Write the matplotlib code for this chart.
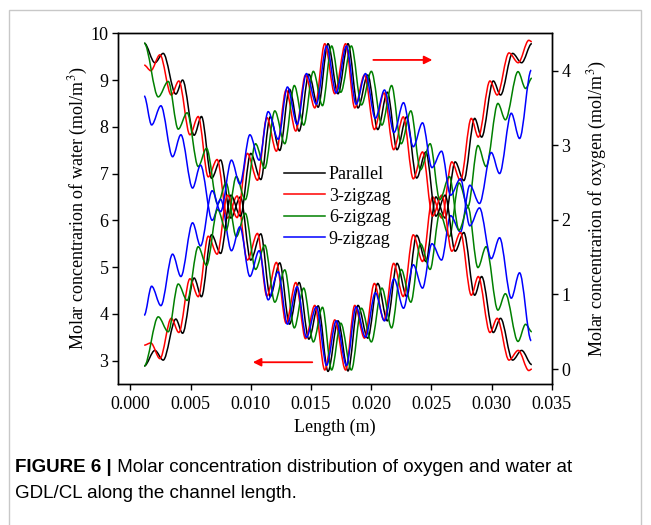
import numpy as np
import matplotlib
matplotlib.use("Agg")
import matplotlib.pyplot as plt
from matplotlib.path import Path
from matplotlib.patches import PathPatch, Rectangle
from matplotlib.lines import Line2D
from matplotlib.ticker import FormatStrFormatter

plt.rcParams['font.family'] = 'Liberation Serif'
plt.rcParams['mathtext.fontset'] = 'stix'

# extrema of each curve: x in mm,
# water on left axis, oxygen on right axis (mol/m3)
x_parallel = [1.15, 2.04, 2.73, 3.78, 4.34, 5.30, 5.91, 6.75, 7.50, 8.35,
              9.15, 10.00, 10.84, 11.62, 12.41, 13.22, 14.02, 14.83, 15.60, 16.42,
              17.25, 18.08, 18.91, 19.72, 20.55, 21.35, 22.15, 22.95, 23.78, 24.55,
              25.38, 26.15, 26.98, 27.70, 28.60, 29.18, 30.15, 30.75, 31.75, 32.50, 33.35]
water_parallel = [9.79, 9.37, 9.57, 8.70, 9.00, 7.82, 8.22, 6.90, 7.29, 6.05,
                  6.50, 5.15, 5.71, 4.37, 5.09, 3.78, 4.67, 3.46, 4.17, 2.77,
                  3.85, 2.78, 4.18, 3.48, 4.65, 3.85, 5.08, 4.37, 5.68, 5.12,
                  6.50, 6.05, 7.25, 6.85, 8.18, 7.78, 8.98, 8.68, 9.57, 9.37, 9.78]
oxygen_parallel = [0.04, 0.25, 0.12, 0.67, 0.48, 1.22, 0.97, 1.80, 1.55, 2.33,
                   2.05, 2.89, 2.54, 3.38, 2.93, 3.75, 3.19, 3.95, 3.51, 4.36,
                   3.69, 4.36, 3.50, 3.94, 3.21, 3.71, 2.94, 3.38, 2.56, 2.91,
                   2.05, 2.33, 1.58, 1.83, 0.99, 1.24, 0.49, 0.68, 0.12, 0.25, 0.06]

x_3zig = [1.15, 1.70, 2.46, 3.40, 4.03, 4.95, 5.64, 6.47, 7.21, 8.07,
          8.87, 9.72, 10.56, 11.34, 12.13, 12.94, 13.74, 14.55, 15.32, 16.15,
          16.98, 17.88, 18.64, 19.45, 20.27, 21.07, 21.87, 22.67, 23.50, 24.27,
          25.10, 25.87, 26.70, 27.42, 28.32, 28.90, 29.87, 30.47, 31.45, 32.22, 33.10, 33.35]
water_3zig = [9.32, 9.20, 9.54, 8.68, 8.98, 7.83, 8.22, 6.93, 7.30, 6.05,
              6.52, 5.15, 5.72, 4.38, 5.10, 3.80, 4.67, 3.47, 4.18, 2.80,
              3.87, 2.80, 4.18, 3.48, 4.65, 3.86, 5.08, 4.37, 5.69, 5.12,
              6.50, 6.05, 7.25, 6.85, 8.18, 7.78, 8.98, 8.68, 9.58, 9.37, 9.85, 9.82]
oxygen_3zig = [0.32, 0.35, 0.14, 0.68, 0.49, 1.21, 0.97, 1.78, 1.54, 2.33,
               2.03, 2.89, 2.53, 3.37, 2.92, 3.74, 3.19, 3.94, 3.50, 4.36,
               3.69, 4.36, 3.50, 3.94, 3.21, 3.70, 2.94, 3.38, 2.55, 2.91,
               2.05, 2.33, 1.58, 1.83, 0.99, 1.24, 0.49, 0.68, 0.12, 0.25, -0.02, 0.00]

x_6zig = [1.15, 2.32, 3.15, 3.98, 4.72, 5.64, 6.33, 7.25, 7.95, 8.80,
          9.55, 10.40, 11.17, 12.00, 12.83, 13.62, 14.40, 15.20, 15.96, 16.72,
          17.48, 18.36, 19.20, 20.02, 20.90, 21.70, 22.50, 23.30, 24.10, 24.90,
          25.70, 26.50, 27.30, 28.05, 28.87, 29.55, 30.53, 31.15, 32.20, 32.83, 33.35]
water_6zig = [9.79, 8.64, 8.97, 7.95, 8.30, 7.15, 7.54, 6.35, 6.80, 5.65,
              6.15, 4.95, 5.47, 4.25, 4.94, 3.70, 4.55, 3.40, 4.14, 2.80,
              3.80, 2.80, 4.12, 3.40, 4.55, 3.70, 4.95, 4.25, 5.50, 4.95,
              6.15, 5.65, 6.80, 6.30, 7.60, 7.15, 8.50, 8.15, 9.18, 8.82, 9.04]
oxygen_6zig = [0.04, 0.70, 0.50, 1.14, 0.92, 1.64, 1.39, 2.14, 1.86, 2.58,
               2.27, 3.02, 2.69, 3.46, 3.02, 3.80, 3.27, 3.99, 3.53, 4.33,
               3.71, 4.33, 3.54, 3.99, 3.27, 3.80, 3.02, 3.46, 2.67, 3.02,
               2.27, 2.58, 1.86, 2.17, 1.36, 1.64, 0.79, 1.01, 0.37, 0.60, 0.50]

x_9zig = [1.15, 1.77, 2.54, 3.51, 4.20, 5.17, 5.83, 6.80, 7.50, 8.40,
          9.10, 9.93, 10.70, 11.45, 12.28, 13.05, 13.85, 14.63, 15.45, 16.30,
          17.10, 17.95, 18.75, 19.53, 20.35, 21.11, 21.90, 22.69, 23.50, 24.27,
          25.05, 25.85, 26.60, 27.42, 28.20, 29.00, 29.98, 30.67, 31.64, 32.33, 33.30]
water_9zig = [8.66, 8.04, 8.45, 7.36, 7.83, 6.69, 7.18, 6.00, 6.45, 5.35,
              5.86, 4.80, 5.35, 4.30, 4.90, 3.78, 4.58, 3.50, 4.15, 2.90,
              3.85, 2.90, 4.15, 3.50, 4.45, 3.85, 4.75, 4.12, 5.05, 4.55,
              5.50, 5.15, 6.10, 5.75, 6.75, 6.36, 7.45, 7.00, 8.29, 7.75, 9.21]
oxygen_9zig = [0.72, 1.11, 0.85, 1.54, 1.24, 1.96, 1.65, 2.39, 2.11, 2.80,
               2.48, 3.14, 2.80, 3.45, 3.08, 3.78, 3.28, 3.96, 3.55, 4.33,
               3.70, 4.33, 3.55, 3.96, 3.36, 3.74, 3.17, 3.57, 2.98, 3.30,
               2.70, 2.92, 2.33, 2.55, 1.92, 2.16, 1.48, 1.76, 0.95, 1.29, 0.38]

labels = ['Parallel', '3-zigzag', '6-zigzag', '9-zigzag']
colors = ['black', '#ff0000', '#008000', '#0000ff']
xs = [x_parallel, x_3zig, x_6zig, x_9zig]
waters = [water_parallel, water_3zig, water_6zig, water_9zig]
oxygens = [oxygen_parallel, oxygen_3zig, oxygen_6zig, oxygen_9zig]


def smooth_path(x, y):
    # cubic segments between extrema, flat at each turning point
    verts = [(x[0], y[0])]
    codes = [Path.MOVETO]
    for i in range(1, len(x)):
        d = (x[i] - x[i - 1]) / 3
        verts += [(x[i - 1] + d, y[i - 1]), (x[i] - d, y[i]), (x[i], y[i])]
        codes += [Path.CURVE4] * 3
    return Path(verts, codes)


fig = plt.figure(figsize=(6.51, 5.25), dpi=100)
ax = fig.add_axes([0.1817, 0.2686, 0.6658, 0.6680])
ax2 = ax.twinx()

for x, w, o, c in zip(xs, waters, oxygens, colors):
    xm = np.array(x) * 1e-3
    ax.add_patch(PathPatch(smooth_path(xm, w), fill=False, ec=c, lw=1.1))
    ax2.add_patch(PathPatch(smooth_path(xm, o), fill=False, ec=c, lw=1.1))

ax.set_xlim(-0.001, 0.035)
ax.set_ylim(2.5, 10)
ax2.set_ylim(-0.2, 4.5)
ax.set_xticks(np.arange(0, 0.0351, 0.005))
ax.xaxis.set_major_formatter(FormatStrFormatter('%.3f'))
ax.set_yticks(range(3, 11))
ax2.set_yticks(range(0, 5))

for a in (ax, ax2):
    a.tick_params(direction='out', length=4, width=1, labelsize=13, pad=3)
    for s in a.spines.values():
        s.set_linewidth(1.0)
ax.tick_params(axis='x', pad=5)

ax.set_xlabel('Length (m)', fontsize=13)
ax.set_ylabel('Molar concentrarion of water (mol/m$^3$)', fontsize=13)
ax2.set_ylabel('Molar concentrarion of oxygen (mol/m$^3$)', fontsize=13)
ax.yaxis.set_label_coords(-0.065, 0.5)
ax2.yaxis.set_label_coords(1.079, 0.5)

handles = [Line2D([], [], color=c, lw=1.1) for c in colors]
ax2.legend(handles, labels, loc='center', bbox_to_anchor=(0.505, 0.505),
           frameon=False, fontsize=13, handlelength=2.3, handletextpad=0.2,
           labelspacing=0.25, borderpad=0)

arrow = dict(arrowstyle='-|>', color='#ff0000', lw=1.3, mutation_scale=12)
ax.annotate('', xy=(0.731, 0.924), xytext=(0.582, 0.924),
            xycoords='axes fraction', arrowprops=arrow)
ax.annotate('', xy=(0.304, 0.062), xytext=(0.454, 0.062),
            xycoords='axes fraction', arrowprops=arrow)

fig.patches.append(Rectangle((9 / 651, -0.1), 632 / 651, 1.1 - 10 / 525,
                             transform=fig.transFigure, fill=False,
                             ec='#c8c8c8', lw=1.0))

cap = fig.text(15 / 651, 1 - 468 / 525, 'FIGURE 6 |', fontsize=13.5,
               family='Liberation Sans', weight='bold', va='center')
fig.text(15 / 651, 1 - 494 / 525, 'GDL/CL along the channel length.',
         fontsize=13.5, family='Liberation Sans', va='center')
ax.annotate(' Molar concentration distribution of oxygen and water at',
            xy=(1, 0.5), xycoords=cap, va='center', fontsize=13.5,
            family='Liberation Sans', annotation_clip=False)

fig.savefig('out.png', dpi=100)
